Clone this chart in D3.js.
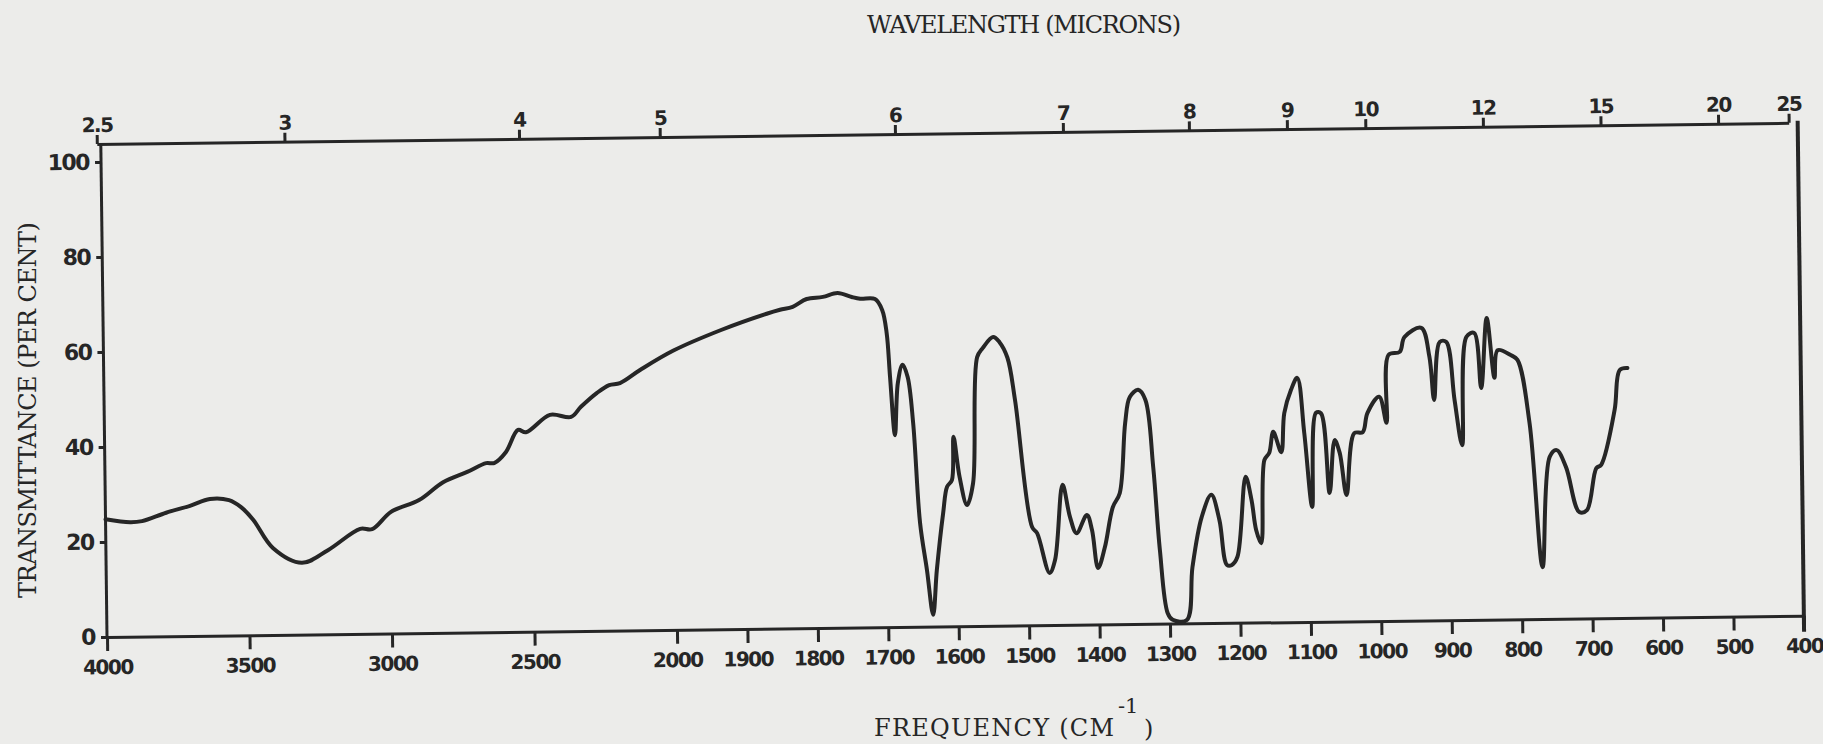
<!DOCTYPE html>
<html>
<head>
<meta charset="utf-8">
<script src="https://cdn.jsdelivr.net/npm/d3@7"></script>
<style>
  body { margin: 0; background: #ececea; }
  svg { display: block; }
</style>
</head>
<body>
<script>
// IR spectrum, wavenumber in cm-1, transmittance in %
const wavenumber = [
  4000, 3914, 3872, 3787, 3703, 3633, 3566, 3524, 3482, 3414, 3313, 3221, 3107, 3065,
  2998, 2899, 2814, 2729, 2662, 2634, 2592, 2549, 2521, 2436, 2362, 2327, 2270, 2227,
  2189, 2118, 2000, 1932, 1867, 1848, 1830, 1810, 1787, 1766, 1746, 1734, 1713, 1703,
  1697, 1693, 1687, 1682, 1675, 1668, 1661, 1653, 1644, 1636, 1630, 1620, 1614, 1607,
  1604, 1596, 1586, 1577, 1569, 1561, 1546, 1537, 1526, 1516, 1494, 1487, 1470, 1462,
  1450, 1440, 1431, 1416, 1409, 1401, 1391, 1379, 1369, 1360, 1353, 1341, 1331, 1321,
  1313, 1303, 1296, 1276, 1267, 1253, 1239, 1228, 1218, 1211, 1203, 1190, 1182, 1176,
  1169, 1163, 1156, 1150, 1139, 1134, 1124, 1115, 1106, 1096, 1089, 1082, 1071, 1063,
  1056, 1047, 1035, 1023, 1016, 999, 989, 985, 969, 962, 938, 927, 921, 912,
  903, 892, 882, 874, 863, 854, 845, 835, 830, 811, 802, 786, 770, 758,
  748, 735, 717, 706, 692, 685, 665, 657, 646
];
const transmittance = [
  24.8, 24.1, 24.3, 26.0, 27.4, 28.8, 28.5, 27.0, 24.3, 18.3, 15.1, 17.7, 22.1, 22.0,
  25.6, 28.0, 31.7, 33.8, 35.6, 35.6, 37.9, 42.5, 42.0, 45.6, 45.1, 47.2, 50.1, 51.7,
  52.1, 54.8, 58.8, 63.0, 66.3, 67.1, 67.7, 69.3, 69.7, 70.5, 69.6, 69.2, 69.1, 66.8,
  61.9, 52.7, 40.4, 51.4, 55.2, 52.6, 42.9, 21.9, 11.9, 2.5, 11.9, 23.9, 29.4, 30.8,
  39.9, 31.4, 25.5, 30.1, 56.6, 58.5, 60.8, 59.7, 56.4, 47.5, 20.7, 19.4, 11.0, 13.7,
  29.5, 22.7, 19.3, 23.1, 19.9, 11.9, 16.3, 24.7, 27.6, 42.4, 47.8, 49.3, 47.2, 33.0,
  15.5, 2.2, 0.8, 0.7, 11.9, 22.4, 27.0, 21.7, 12.2, 12.2, 13.9, 30.7, 25.8, 19.5,
  16.7, 34.2, 35.7, 40.1, 35.8, 44.0, 48.9, 51.4, 39.8, 24.2, 44.0, 43.9, 27.1, 38.2,
  35.5, 26.6, 39.6, 39.8, 43.8, 47.2, 41.7, 56.0, 56.6, 59.7, 61.6, 55.5, 46.4, 58.6,
  58.6, 46.3, 36.8, 59.6, 60.4, 48.8, 63.5, 50.9, 56.7, 55.6, 54.6, 41.3, 10.9, 34.1,
  35.5, 31.9, 22.4, 22.8, 31.6, 32.3, 43.8, 52.2, 52.6
];

const freqTicks = [4000, 3500, 3000, 2500, 2000, 1900, 1800, 1700, 1600, 1500, 1400,
  1300, 1200, 1100, 1000, 900, 800, 700, 600, 500, 400];
const waveTicks = [2.5, 3, 4, 5, 6, 7, 8, 9, 10, 12, 15, 20, 25];
const pctTicks = [0, 20, 40, 60, 80, 100];

const width = 1823;
const height = 744;
const ink = "#262626";

// chart paper: scale halves at 2000 cm-1
const x = d3.scaleLinear().domain([4000, 2000, 400]).range([107, 677, 1804]);
// printed wavelength scale sits a little left of the frequency scale
const xTop = d3.scaleLinear().domain([4000, 2000, 400]).range([103, 666, 1795]);
const y = d3.scaleLinear().domain([0, 100]).range([637, 162]);
const frameTop = 144;

const svg = d3.select("body").append("svg")
  .attr("width", width)
  .attr("height", height)
  .attr("viewBox", [0, 0, width, height]);

svg.append("rect")
  .attr("width", width)
  .attr("height", height)
  .attr("fill", "#ececea");

// the scanned sheet is slightly tilted
const chart = svg.append("g")
  .attr("transform", `rotate(-0.72, ${x(4000)}, ${y(0)})`);

const tickFont = "'DejaVu Sans', sans-serif";

// bottom frequency axis
const bottomAxis = chart.append("g")
  .attr("transform", `translate(0,${y(0)})`)
  .call(d3.axisBottom(x).tickValues(freqTicks).tickFormat(d3.format("d"))
    .tickSize(14).tickPadding(9).tickSizeOuter(0));

// top wavelength axis
const topAxis = chart.append("g")
  .attr("transform", `translate(0,${frameTop})`)
  .call(d3.axisTop(xTop)
    .tickValues(waveTicks.map(w => 1e4 / w))
    .tickFormat((d, i) => waveTicks[i])
    .tickSize(9).tickPadding(3).tickSizeOuter(0));

// left percent axis
const leftAxis = chart.append("g")
  .attr("transform", `translate(${x(4000)},0)`)
  .call(d3.axisLeft(y).tickValues(pctTicks).tickSize(6).tickPadding(6).tickSizeOuter(0));
leftAxis.select(".domain").remove();

[bottomAxis, topAxis, leftAxis].forEach(g => {
  g.selectAll(".domain").attr("stroke", ink).attr("stroke-width", 3);
  g.selectAll(".tick line").attr("stroke", ink).attr("stroke-width", 3);
  g.selectAll(".tick text")
    .attr("fill", ink)
    .attr("font-family", tickFont)
    .attr("font-weight", "bold")
    .attr("font-size", 20)
    .attr("letter-spacing", -1.5);
});
leftAxis.selectAll(".tick text").attr("font-size", 22);

// frame sides
chart.append("line")
  .attr("x1", x(4000)).attr("x2", x(4000))
  .attr("y1", frameTop).attr("y2", y(0))
  .attr("stroke", ink).attr("stroke-width", 3);
chart.append("line")
  .attr("x1", x(400)).attr("x2", x(400))
  .attr("y1", frameTop - 2).attr("y2", y(0) + 16)
  .attr("stroke", ink).attr("stroke-width", 4);

// spectrum trace
const line = d3.line()
  .x(d => x(d[0]))
  .y(d => y(d[1]))
  .curve(d3.curveCatmullRom.alpha(0.5));

chart.append("path")
  .datum(d3.zip(wavenumber, transmittance))
  .attr("fill", "none")
  .attr("stroke", ink)
  .attr("stroke-width", 4)
  .attr("stroke-linejoin", "round")
  .attr("stroke-linecap", "round")
  .attr("d", line);

// typed titles
const titleFont = "'DejaVu Serif', serif";

svg.append("text")
  .attr("x", 1024).attr("y", 33)
  .attr("text-anchor", "middle")
  .attr("textLength", 314)
  .attr("font-family", titleFont)
  .attr("font-size", 24)
  .attr("fill", ink)
  .text("WAVELENGTH (MICRONS)");

svg.append("text")
  .attr("x", 874).attr("y", 736)
  .attr("textLength", 240)
  .attr("font-family", titleFont)
  .attr("font-size", 24)
  .attr("fill", ink)
  .text("FREQUENCY (CM");
svg.append("text")
  .attr("x", 1118).attr("y", 713)
  .attr("font-family", titleFont)
  .attr("font-size", 21)
  .attr("fill", ink)
  .text("-1");
svg.append("text")
  .attr("x", 1144).attr("y", 737)
  .attr("font-family", titleFont)
  .attr("font-size", 24)
  .attr("fill", ink)
  .text(")");

svg.append("text")
  .attr("transform", "translate(36,410) rotate(-90)")
  .attr("text-anchor", "middle")
  .attr("textLength", 376)
  .attr("font-family", titleFont)
  .attr("font-size", 24)
  .attr("fill", ink)
  .text("TRANSMITTANCE (PER CENT)");
</script>
</body>
</html>
